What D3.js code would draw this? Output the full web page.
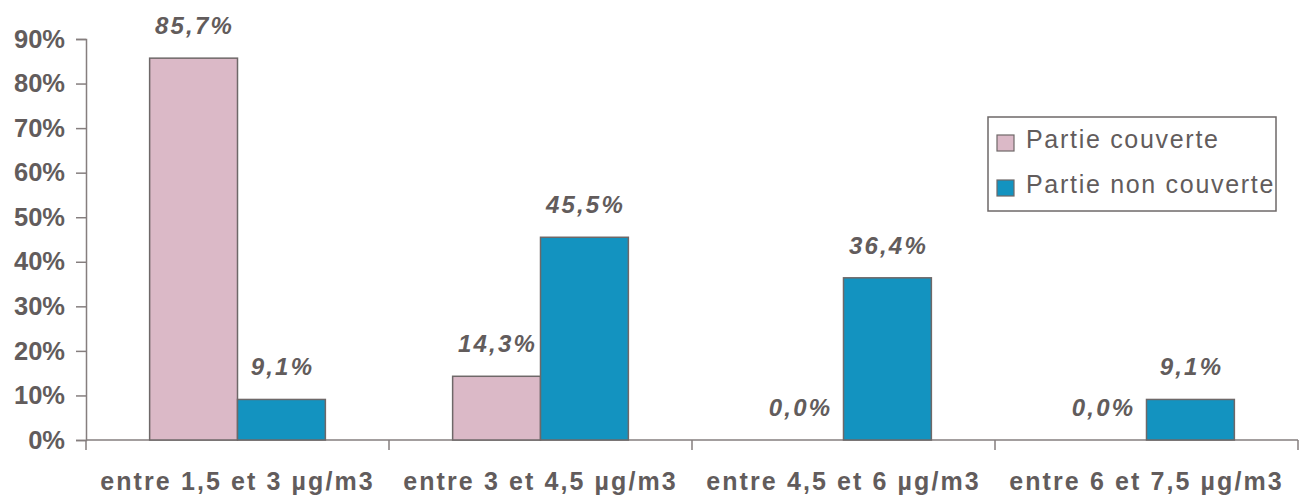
<!DOCTYPE html>
<html>
<head>
<meta charset="utf-8">
<script src="https://cdn.jsdelivr.net/npm/d3@7/dist/d3.min.js"></script>
<style>
  html, body { margin: 0; padding: 0; background: #fff; }
  svg { display: block; font-family: "Liberation Sans", Arial, sans-serif; }
</style>
</head>
<body>
<svg id="chart" width="1312" height="498"></svg>
<script>
// Répartition par classe de concentration
const categories = ["entre 1,5 et 3 µg/m3", "entre 3 et 4,5 µg/m3", "entre 4,5 et 6 µg/m3", "entre 6 et 7,5 µg/m3"];
const seriesNames = ["Partie couverte", "Partie non couverte"];
const couverte = [85.7, 14.3, 0.0, 0.0];
const nonCouverte = [9.1, 45.5, 36.4, 9.1];
const yTicks = [0, 10, 20, 30, 40, 50, 60, 70, 80, 90];

const colors = { "Partie couverte": "#dbb9c7", "Partie non couverte": "#1393c0" };
const textColor = "#625c5c";
const lineColor = "#857e7e";

const svg = d3.select("#chart");
const margin = { left: 86, right: 14, top: 39, bottom: 58 };
const W = 1312, H = 498;

const y = d3.scaleLinear().domain([0, 90]).range([H - margin.bottom, margin.top]);
const x0 = d3.scaleBand().domain(categories)
  .range([margin.left, W - margin.right])
  .paddingInner(0.42).paddingOuter(0.21);
const x1 = d3.scaleBand().domain(seriesNames).range([0, x0.bandwidth()]);

const rows = categories.map((c, i) => ({
  cat: c,
  vals: [
    { s: seriesNames[0], v: couverte[i] },
    { s: seriesNames[1], v: nonCouverte[i] }
  ]
}));

const fmt = v => d3.format(".1f")(v).replace(".", ",") + "%";

// Y axis
const yAxis = d3.axisLeft(y).tickValues(yTicks).tickSize(10).tickPadding(11)
  .tickFormat(d => d + "%");
const gy = svg.append("g").attr("transform", `translate(${margin.left},0)`).call(yAxis);
gy.select(".domain").attr("stroke", lineColor).attr("stroke-width", 1.5);
gy.selectAll(".tick line").attr("stroke", lineColor).attr("stroke-width", 1.5);
gy.selectAll(".tick text").attr("fill", textColor)
  .style("font-size", "25.5px").style("font-weight", "bold");

// X axis: baseline with separators between categories
const xBoundaries = categories.map((c, i) => x0(c) - x0.step() * x0.paddingOuter())
  .concat([W - margin.right]);
const gx = svg.append("g");
gx.append("line")
  .attr("x1", margin.left).attr("x2", W - margin.right)
  .attr("y1", y(0)).attr("y2", y(0))
  .attr("stroke", lineColor).attr("stroke-width", 1.5);
gx.selectAll("line.sep").data(xBoundaries).join("line")
  .attr("class", "sep")
  .attr("x1", d => d).attr("x2", d => d)
  .attr("y1", y(0)).attr("y2", y(0) + 10)
  .attr("stroke", lineColor).attr("stroke-width", 1.5);
gx.selectAll("text.cat").data(categories).join("text")
  .attr("class", "cat")
  .attr("x", d => x0(d) + x0.bandwidth() / 2)
  .attr("y", y(0) + 50)
  .attr("text-anchor", "middle")
  .attr("fill", textColor)
  .style("font-size", "25px").style("font-weight", "bold")
  .style("letter-spacing", "2.1px")
  .text(d => d);

// Bars
const groups = svg.append("g").selectAll("g").data(rows).join("g")
  .attr("transform", d => `translate(${x0(d.cat)},0)`);

groups.selectAll("rect").data(d => d.vals.filter(e => e.v > 0)).join("rect")
  .attr("x", d => x1(d.s))
  .attr("width", x1.bandwidth())
  .attr("y", d => y(d.v))
  .attr("height", d => y(0) - y(d.v))
  .attr("fill", d => colors[d.s])
  .attr("stroke", "#6e6868").attr("stroke-width", 1.5);

groups.selectAll("text").data(d => d.vals).join("text")
  .attr("x", d => x1(d.s) + x1.bandwidth() / 2 + 1)
  .attr("y", d => y(d.v) - 24)
  .attr("text-anchor", "middle")
  .attr("fill", textColor)
  .style("font-size", "24px").style("font-weight", "bold").style("font-style", "italic")
  .style("letter-spacing", "2.2px")
  .text(d => fmt(d.v));

// Legend
const lg = svg.append("g").attr("transform", "translate(988,117)");
lg.append("rect").attr("width", 288).attr("height", 94)
  .attr("fill", "#fff").attr("stroke", "#6e6868").attr("stroke-width", 1.5);
const li = lg.selectAll("g").data(seriesNames).join("g")
  .attr("transform", (d, i) => `translate(9,${26 + i * 45})`);
li.append("rect").attr("x", 0).attr("y", -8).attr("width", 17).attr("height", 16)
  .attr("fill", d => colors[d]).attr("stroke", "#6e6868").attr("stroke-width", 1.2);
li.append("text").attr("x", 29).attr("y", 5)
  .attr("fill", textColor).style("font-size", "25px")
  .style("letter-spacing", "1.7px")
  .text(d => d);
</script>
</body>
</html>
